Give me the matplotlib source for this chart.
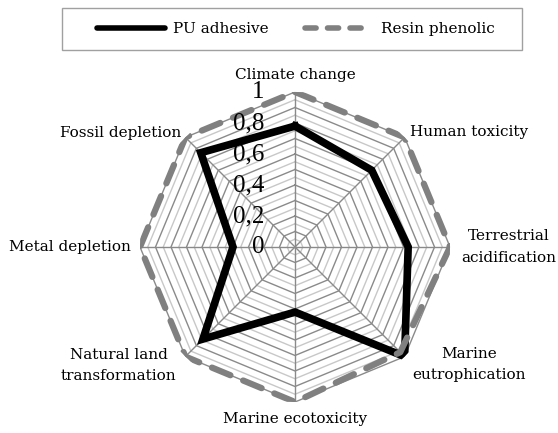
import numpy as np
import matplotlib
matplotlib.use("Agg")
import matplotlib.pyplot as plt
from matplotlib.patches import Rectangle
from matplotlib.lines import Line2D

categories = ["Climate change", "Human toxicity", "Terrestrial\nacidification",
              "Marine\neutrophication", "Marine ecotoxicity",
              "Natural land\ntransformation", "Metal depletion", "Fossil depletion"]
pu_adhesive = [0.78, 0.70, 0.73, 1.0, 0.42, 0.84, 0.40, 0.86]
resin_phenolic = [1.0, 1.0, 1.0, 0.96, 1.0, 1.0, 1.0, 1.0]
tick_values = [0, 0.2, 0.4, 0.6, 0.8, 1.0]
tick_labels = ["0", "0,2", "0,4", "0,6", "0,8", "1"]

plt.rcParams['font.family'] = ['DejaVu Serif']

fig = plt.figure(figsize=(5.58, 4.33), dpi=100)
# center ~ (295, 247) px, radius ~155 px
ax = fig.add_axes([0.2509, 0.0716, 0.5556, 0.716], projection='polar')
ax.set_theta_offset(np.pi / 2)
ax.set_theta_direction(-1)
ax.set_ylim(0, 1)
ax.grid(False)
ax.spines['polar'].set_visible(False)
ax.set_xticks([])
ax.set_yticks([])
ax.patch.set_alpha(0)

n = len(categories)
ang = np.linspace(0, 2 * np.pi, n, endpoint=False)
ang_c = np.append(ang, ang[0])

# grid rings: major every 0.1, minor in between
for k in range(1, 21):
    r = k * 0.05
    col = "#8a8a8a" if k % 2 == 0 else "#c8c8c8"
    ax.plot(ang_c, [r] * (n + 1), color=col, lw=1.0, zorder=1)
for a in ang:
    ax.plot([a, a], [0, 1], color="#8a8a8a", lw=1.0, zorder=1)

ax.plot(ang_c, pu_adhesive + pu_adhesive[:1], color="black", lw=5.5,
        solid_joinstyle='miter', zorder=3)
ax.plot(ang_c, resin_phenolic + resin_phenolic[:1], color="#808080", lw=4.5,
        dashes=(3.2, 2.2), dash_capstyle='round', zorder=4)

# axis value labels
for v, t in zip(tick_values, tick_labels):
    ax.annotate(t, xy=(0, v), xytext=(-22, 0), textcoords='offset points',
                ha='right', va='center', fontsize=18, family='Liberation Serif',
                zorder=5)

# category labels
label_pos = [
    (1.11, 'center'),
    (1.05, 'left'),
    (1.07, 'left'),
    (1.07, 'left'),
    (1.11, 'center'),
    (1.08, 'right'),
    (1.06, 'right'),
    (1.04, 'right'),
]
for a, lab, (r, ha) in zip(ang, categories, label_pos):
    ax.text(a, r, lab, ha=ha, va='center', multialignment='center',
            fontsize=11, linespacing=1.65)

# legend
fig.patches.append(Rectangle((62 / 558, 1 - 50 / 433), 460 / 558, 42 / 433,
                             transform=fig.transFigure, fill=False,
                             edgecolor="#a0a0a0", lw=1.0))
handles = [Line2D([], [], color="black", lw=4.0, solid_capstyle='round'),
           Line2D([], [], color="#808080", lw=4.0, dashes=(2.0, 2.05),
                  dash_capstyle='round')]
fig.legend(handles, ["PU adhesive", "Resin phenolic"], loc='center',
           bbox_to_anchor=(296 / 558, 1 - 29 / 433), ncol=2, frameon=False,
           fontsize=11, handlelength=4.4, handletextpad=0.55, columnspacing=2.4)

fig.savefig("out.png", dpi=100)
